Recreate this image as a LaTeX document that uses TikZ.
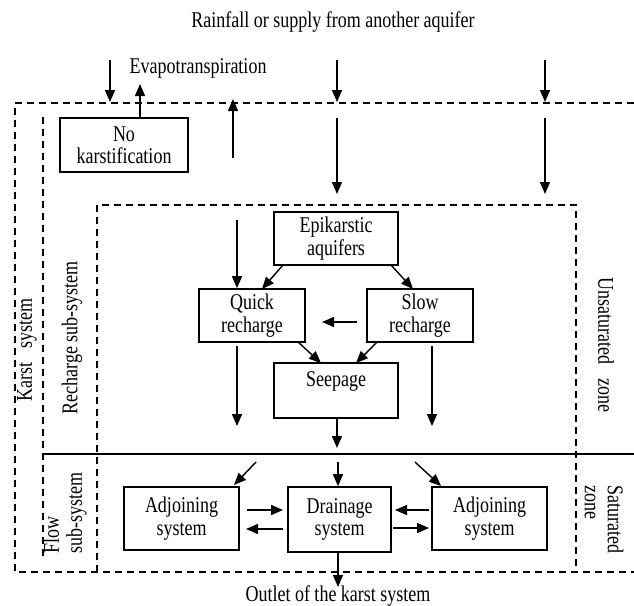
\documentclass[tikz,border=0pt]{standalone}
\usepackage{fontspec}
\setmainfont[FakeStretch=0.8]{Liberation Serif}
\usetikzlibrary{arrows.meta}
\begin{document}
\begin{tikzpicture}[x=1pt,y=-1pt,
  box/.style={draw,line width=1.6pt,inner sep=0pt,align=center,font=\fontsize{22.5}{22.5}\selectfont},
  arr/.style={line width=1.4pt,-{Triangle[length=12pt,width=10pt]}},
  dl/.style={dash pattern=on 7pt off 5pt,line width=1.4pt},
  sl/.style={line width=1.3pt},
  lab/.style={font=\fontsize{22.5}{23}\selectfont,inner sep=0pt,align=left}]
\useasboundingbox (0,0) rectangle (634,605);

% dashed frames
\draw[dl] (634,103) -- (15,103) -- (15,572) -- (634,572);
\draw[dl] (43,117) -- (43,557);
\draw[dl] (97,572) -- (97,205) -- (576,205) -- (576,572);
\draw[sl] (43,454) -- (634,454);

% texts
\node[lab] (rain) at (333,22) {Rainfall or supply from another aquifer};
\node[lab] (evap) at (198,68) {Evapotranspiration};
\node[lab] (outlet) at (338,596) {Outlet of the karst system};
\node[lab,rotate=90] (karst) at (27,350) {Karst\ \ \ system};
\node[lab,rotate=90] (rsub) at (72,338) {Recharge sub-system};
\node[lab,rotate=90] (fsub) at (65,513) {Flow\\sub-system};
\node[lab,rotate=-90] (unsat) at (606,345) {Unsaturated\ \ \ zone};
\node[lab,rotate=-90] (sat) at (604,519) {Saturated\\zone};

% boxes
\node[box,minimum width=128pt,minimum height=54pt] (nok) at (124,145) {No\\karstification};
\node[box,minimum width=124pt,minimum height=53pt] (epi) at (336,238.5) {Epikarstic\\aquifers};
\node[box,minimum width=106pt,minimum height=53pt] (quick) at (252,315.5) {Quick\\recharge};
\node[box,minimum width=106pt,minimum height=53pt] (slow) at (420,315.5) {Slow\\recharge};
\node[box,minimum width=124pt,minimum height=55pt] (seep) at (336,390.5) {Seepage\\[0pt]~};
\node[box,minimum width=115pt,minimum height=63pt] (adjL) at (181.5,518.5) {Adjoining\\system};
\node[box,minimum width=103pt,minimum height=65pt] (drain) at (339.5,519.5) {Drainage\\system};
\node[box,minimum width=115pt,minimum height=63pt] (adjR) at (489.5,518.5) {Adjoining\\system};

% top arrows
\coordinate (r1) at (110,60); \coordinate (r1e) at (110,102);
\coordinate (r2) at (337,60); \coordinate (r2e) at (337,102);
\coordinate (r3) at (545,60); \coordinate (r3e) at (545,102);
\draw[arr] (r1) -- (r1e);
\draw[arr] (r2) -- (r2e);
\draw[arr] (r3) -- (r3e);
\coordinate (e1) at (140,84);
\draw[arr] (nok.north -| e1) -- (e1);
\coordinate (e2s) at (233,158); \coordinate (e2e) at (233,99);
\draw[arr] (e2s) -- (e2e);
\coordinate (d1s) at (337,118); \coordinate (d1e) at (337,194);
\coordinate (d2s) at (545,118); \coordinate (d2e) at (545,194);
\draw[arr] (d1s) -- (d1e);
\draw[arr] (d2s) -- (d2e);

% recharge arrows
\coordinate (q0) at (237,220);
\draw[arr] (q0) -- (q0 |- quick.north);
\coordinate (eq1) at (283,265); \coordinate (eq2) at (262,289);
\draw[arr] (eq1) -- (eq2);
\coordinate (es1) at (391,265); \coordinate (es2) at (413,289);
\draw[arr] (es1) -- (es2);
\coordinate (sq1) at (357,322); \coordinate (sq2) at (322,322);
\draw[arr] (sq1) -- (sq2);
\coordinate (qs1) at (298,342); \coordinate (qs2) at (321,363);
\draw[arr] (qs1) -- (qs2);
\coordinate (ss1) at (377,342); \coordinate (ss2) at (356,363);
\draw[arr] (ss1) -- (ss2);
\coordinate (l1) at (237,346); \coordinate (l1e) at (237,426);
\draw[arr] (l1) -- (l1e);
\coordinate (l2) at (432,346); \coordinate (l2e) at (432,426);
\draw[arr] (l2) -- (l2e);
\coordinate (sd) at (337,448);
\draw[arr] (seep.south -| sd) -- (sd);

% flow arrows
\coordinate (f1) at (256,462); \coordinate (f1e) at (234,485);
\draw[arr] (f1) -- (f1e);
\coordinate (f2) at (338,462);
\draw[arr] (f2) -- (f2 |- drain.north);
\coordinate (f3) at (415,462); \coordinate (f3e) at (441,486);
\draw[arr] (f3) -- (f3e);
\coordinate (h1) at (247,510); \coordinate (h1e) at (283,510);
\draw[arr] (h1) -- (h1e);
\coordinate (h2) at (283,529); \coordinate (h2e) at (246,529);
\draw[arr] (h2) -- (h2e);
\coordinate (h3) at (429,510); \coordinate (h3e) at (395,510);
\draw[arr] (h3) -- (h3e);
\coordinate (h4) at (393,528); \coordinate (h4e) at (429,528);
\draw[arr] (h4) -- (h4e);
\coordinate (o1) at (338,587);
\draw[arr] (drain.south -| o1) -- (o1);
\end{tikzpicture}
\end{document}
